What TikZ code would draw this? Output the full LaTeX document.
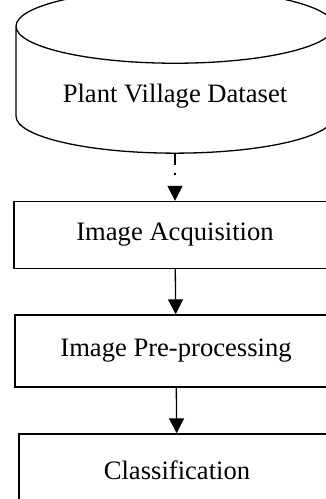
\documentclass[tikz,border=0pt]{standalone}
\usepackage{fontspec}
\setmainfont{Liberation Serif}
\usetikzlibrary{arrows.meta,shapes.geometric}
\tikzset{store/.style={cylinder,draw,shape border rotate=90,aspect=0.33,minimum width=159pt,minimum height=82pt,inner sep=0pt,text height=15pt}}
\tikzset{stage/.style={rectangle,draw,minimum width=161pt,minimum height=36pt,inner sep=0pt}}
\tikzset{flow/.style={-{Triangle[width=7.5pt,length=7.5pt]}}}
\tikzset{dotflow/.style={flow,dash pattern=on 5.5pt off 4pt on 1pt off 10pt}}

\begin{document}
\begin{tikzpicture}[x=0.5pt,y=-0.5pt,line width=0.65pt,font=\fontsize{13.3}{16}\selectfont]
    \clip (0,0) rectangle (326,499);
    \node[store] (dataset) at (175,90) {Plant Village Dataset};
    \node[stage,minimum height=33.5pt] (acq) at (175,235) {Image Acquisition};
    \node[stage] (prep) at (176,351) {Image Pre-processing};
    \node[stage,minimum width=158pt] (cls) at (177,470) {Classification};
    \draw[dotflow] (dataset.south) -- (acq.north);
    \draw[flow] (acq) -- (prep);
    \draw[flow] (prep) -- (cls);
  \end{tikzpicture}
\end{document}
